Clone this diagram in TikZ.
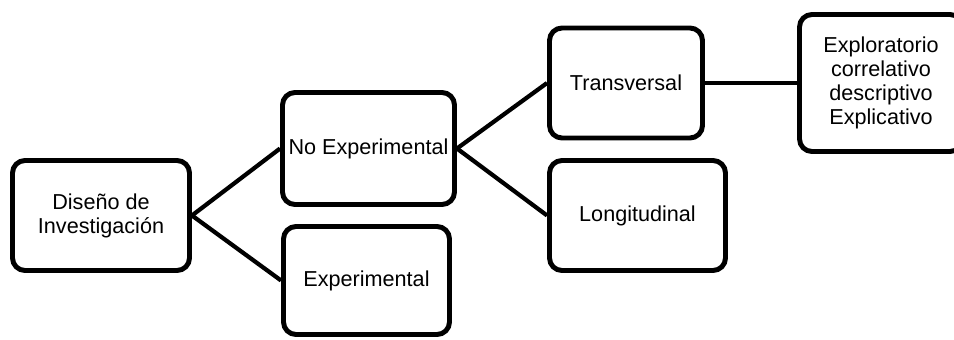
\documentclass[tikz,border=0pt]{standalone}
\usepackage{fontspec}
\setmainfont{Liberation Sans}
\usepackage{tikz}

\begin{document}
\begin{tikzpicture}[
    caja/.style={draw, line width=2.8pt, rounded corners=0.25cm, align=center,
                 inner sep=0pt, font=\fontsize{12.3}{13.6}\selectfont},
    linea/.style={line width=2.4pt}
  ]
                    \clip (0,0) rectangle (19.08,6.78);
                    \node[caja, minimum width=3.54cm, minimum height=2.20cm] (diseno) at (2.02,2.47) {Diseño de\\Investigación};
                    \node[caja, minimum width=3.44cm, minimum height=2.24cm] (noexp) at (7.37,3.81) {No Experimental};
                    \node[caja, minimum width=3.32cm, minimum height=2.16cm] (exp) at (7.33,1.17) {Experimental};
                    \node[caja, minimum width=3.06cm, minimum height=2.20cm] (trans) at (12.52,5.12) {Transversal};
                    \node[caja, minimum width=3.52cm, minimum height=2.20cm] (longi) at (12.75,2.47) {Longitudinal};
                    \node[caja, minimum width=3.26cm, minimum height=2.74cm] (tipos) at (17.62,5.12) {Exploratorio\\correlativo\\descriptivo\\Explicativo};

                    \draw[linea] (diseno.east) -- (noexp.west);
                    \draw[linea] (diseno.east) -- (exp.west);
                    \draw[linea] (noexp.east) -- (trans.west);
                    \draw[linea] (noexp.east) -- (longi.west);
                    \draw[linea] (trans.east) -- (tipos.west);
                \end{tikzpicture}
\end{document}
